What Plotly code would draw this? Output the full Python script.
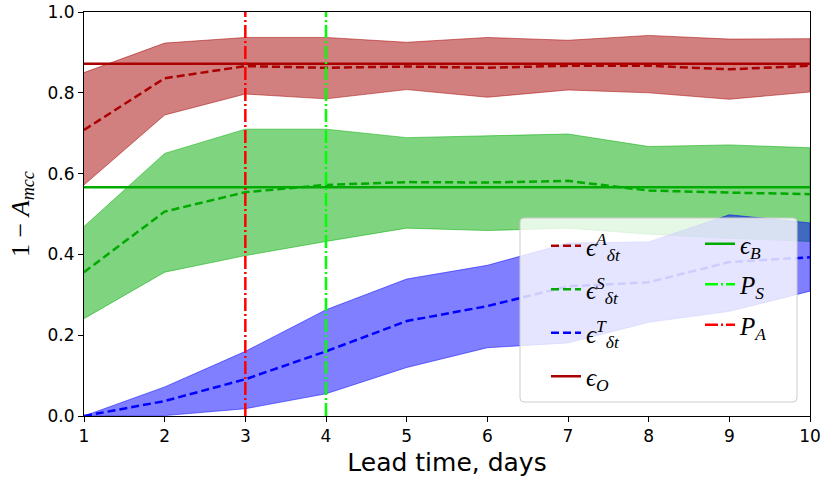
import plotly.graph_objects as go

# ---------------- data ----------------
days = [1, 2, 3, 4, 5, 6, 7, 8, 9, 10]

eps_A_mean = [0.708, 0.836, 0.866, 0.862, 0.865, 0.862, 0.867, 0.867, 0.858, 0.867]
eps_A_upper = [0.850, 0.923, 0.937, 0.937, 0.925, 0.937, 0.930, 0.942, 0.933, 0.934]
eps_A_lower = [0.572, 0.745, 0.797, 0.785, 0.808, 0.789, 0.807, 0.800, 0.784, 0.802]

eps_S_mean = [0.356, 0.506, 0.554, 0.572, 0.579, 0.578, 0.582, 0.558, 0.553, 0.549]
eps_S_upper = [0.469, 0.650, 0.710, 0.710, 0.689, 0.693, 0.698, 0.667, 0.671, 0.664]
eps_S_lower = [0.241, 0.356, 0.397, 0.432, 0.465, 0.459, 0.465, 0.450, 0.440, 0.432]

eps_T_mean = [0.000, 0.037, 0.091, 0.160, 0.235, 0.272, 0.321, 0.331, 0.381, 0.393]
eps_T_upper = [0.000, 0.072, 0.160, 0.263, 0.339, 0.373, 0.428, 0.431, 0.498, 0.478]
eps_T_lower = [0.000, 0.001, 0.018, 0.055, 0.120, 0.169, 0.181, 0.232, 0.259, 0.309]

eps_O = 0.872
eps_B = 0.566
P_S_day = 4
P_A_day = 3

y_ticks = [0.0, 0.2, 0.4, 0.6, 0.8, 1.0]

labels = {
    "A": "<i>ϵ</i><sup><i>A</i></sup><sub><i>δt</i></sub>",
    "S": "<i>ϵ</i><sup><i>S</i></sup><sub><i>δt</i></sub>",
    "T": "<i>ϵ</i><sup><i>T</i></sup><sub><i>δt</i></sub>",
    "O": "<i>ϵ</i><sub><i>O</i></sub>",
    "B": "<i>ϵ</i><sub><i>B</i></sub>",
    "PS": "<i>P</i><sub><i>S</i></sub>",
    "PA": "<i>P</i><sub><i>A</i></sub>",
}

# ---------------- styles ----------------
RED_FILL = "rgba(165,0,0,0.5)"
GREEN_FILL = "rgba(0,170,0,0.5)"
BLUE_FILL = "rgba(0,0,255,0.5)"
RED = "#aa0000"
GREEN = "#00aa00"
BLUE = "#0000ff"
LIME = "#00ff00"
PURE_RED = "#ff0000"
LW = 2.5

fig = go.Figure()


def band(upper, lower, fill):
    fig.add_trace(go.Scatter(
        x=days + days[::-1], y=upper + lower[::-1],
        fill="toself", fillcolor=fill, mode="lines",
        line=dict(color=fill, width=1), showlegend=False, hoverinfo="skip"))


band(eps_A_upper, eps_A_lower, RED_FILL)
band(eps_S_upper, eps_S_lower, GREEN_FILL)
band(eps_T_upper, eps_T_lower, BLUE_FILL)

dash = "8px,4px"
dashdot = "13px,3px,2px,3px"
fig.add_trace(go.Scatter(x=days, y=eps_A_mean, mode="lines", name=labels["A"],
                         line=dict(color=RED, width=LW, dash=dash), legend="legend", legendgroup="a"))
fig.add_trace(go.Scatter(x=days, y=eps_S_mean, mode="lines", name=labels["S"],
                         line=dict(color=GREEN, width=LW, dash=dash), legend="legend", legendgroup="s"))
fig.add_trace(go.Scatter(x=days, y=eps_T_mean, mode="lines", name=labels["T"],
                         line=dict(color=BLUE, width=LW, dash=dash), legend="legend", legendgroup="t"))
fig.add_trace(go.Scatter(x=[days[0], days[-1]], y=[eps_O, eps_O], mode="lines", name=labels["O"],
                         line=dict(color=RED, width=LW), legend="legend", legendgroup="o"))
fig.add_trace(go.Scatter(x=[days[0], days[-1]], y=[eps_B, eps_B], mode="lines", name=labels["B"],
                         line=dict(color=GREEN, width=LW), legend="legend2", legendgroup="b"))
fig.add_trace(go.Scatter(x=[P_S_day, P_S_day], y=[y_ticks[0], y_ticks[-1]], mode="lines", name=labels["PS"],
                         line=dict(color=LIME, width=LW, dash=dashdot), legend="legend2", legendgroup="ps"))
fig.add_trace(go.Scatter(x=[P_A_day, P_A_day], y=[y_ticks[0], y_ticks[-1]], mode="lines", name=labels["PA"],
                         line=dict(color=PURE_RED, width=LW, dash=dashdot), legend="legend2", legendgroup="pa"))

# target plot area in window pixels
L, R, T, B = 84, 810, 12, 416
W, H = R - L, B - T


def px(p):
    return (p - L) / W


def py(p):
    return (B - p) / H


x0, x1, yt, yb = px(520), px(797), py(218), py(402)
rx, ry = 4 / W, 4 / H
path = (f"M{x0+rx},{yb} L{x1-rx},{yb} Q{x1},{yb} {x1},{yb+ry} L{x1},{yt-ry} Q{x1},{yt} {x1-rx},{yt} "
        f"L{x0+rx},{yt} Q{x0},{yt} {x0},{yt-ry} L{x0},{yb+ry} Q{x0},{yb} {x0+rx},{yb} Z")
fig.add_shape(type="path", path=path, xref="paper", yref="paper", layer="above",
              fillcolor="rgba(255,255,255,0.8)", line=dict(color="#cccccc", width=1))

legend_font = dict(family="Liberation Serif, DejaVu Serif, serif", size=25, color="black")
fig.update_layout(
    width=823, height=484,
    margin=dict(l=L, r=823 - R, t=T, b=484 - B, autoexpand=False),
    paper_bgcolor="white", plot_bgcolor="white",
    font=dict(family="DejaVu Sans, sans-serif", color="black"),
    legend=dict(x=px(546), y=py(223), xanchor="left", yanchor="top",
                bgcolor="rgba(0,0,0,0)", borderwidth=0, font=legend_font,
                tracegroupgap=8, traceorder="grouped"),
    legend2=dict(x=px(700), y=py(221), xanchor="left", yanchor="top",
                 bgcolor="rgba(0,0,0,0)", borderwidth=0, font=legend_font,
                 tracegroupgap=5, traceorder="grouped"),
    xaxis=dict(range=[1, 10], dtick=1, tick0=1, showgrid=False, zeroline=False,
               showline=True, linecolor="black", linewidth=1, mirror=True,
               ticks="outside", ticklen=5, tickcolor="black", automargin=False,
               tickfont=dict(size=17),
               title=dict(text="Lead time, days", font=dict(size=25), standoff=8)),
    yaxis=dict(range=[0, 1], tickvals=y_ticks, tickformat=".1f", showgrid=False, zeroline=False,
               showline=True, linecolor="black", linewidth=1, mirror=True,
               ticks="outside", ticklen=5, tickcolor="black", automargin=False,
               tickfont=dict(size=17),
               title=dict(text="1 − <i>A</i><sub><i>mcc</i></sub>",
                          font=dict(family="Liberation Serif, DejaVu Serif, serif", size=26),
                          standoff=10)),
)

# remove the page's default 8px body margin so the figure fills the window exactly
fig.write_html("out.html", config={"displayModeBar": False},
               post_script="document.body.style.margin='0';")
